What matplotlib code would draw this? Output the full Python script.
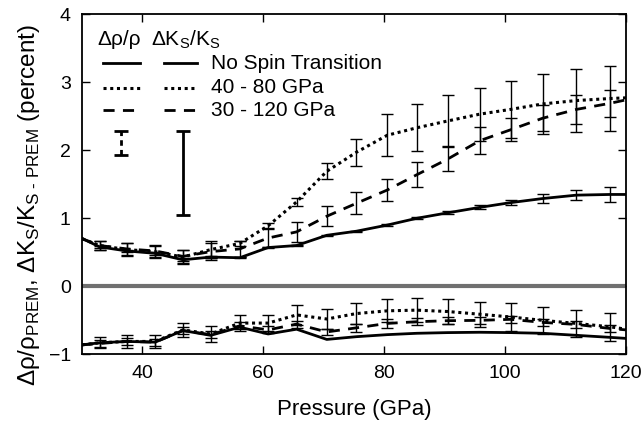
import matplotlib
matplotlib.use("Agg")
import matplotlib.pyplot as plt
import numpy as np

plt.rcParams['font.family'] = ['Liberation Sans', 'DejaVu Sans']
plt.rcParams['mathtext.fontset'] = 'custom'
plt.rcParams['mathtext.rm'] = 'Liberation Sans'

# Pressure points (GPa); first and last are the plot edges
pressure = [30.0, 32.9, 37.4, 42.1, 46.7, 51.3, 56.1, 60.8, 65.5, 70.5, 75.4,
            80.5, 85.4, 90.5, 95.8, 100.9, 106.2, 111.8, 117.4, 120.0]

# Delta K_S / K_S (percent), upper curves
ks_none = [0.705, 0.58, 0.52, 0.485, 0.39, 0.43, 0.42, 0.57, 0.60, 0.75, 0.81,
           0.90, 1.00, 1.08, 1.16, 1.23, 1.29, 1.34, 1.35, 1.35]
ks_40_80 = [0.70, 0.60, 0.54, 0.51, 0.43, 0.54, 0.63, 0.89, 1.24, 1.69, 1.97,
            2.22, 2.33, 2.43, 2.53, 2.60, 2.68, 2.73, 2.76, 2.77]
ks_30_120 = [0.70, 0.60, 0.55, 0.52, 0.44, 0.51, 0.55, 0.71, 0.80, 1.03, 1.22,
             1.415, 1.64, 1.87, 2.14, 2.30, 2.47, 2.60, 2.69, 2.74]
ks_none_err = [0.02, 0.02, 0.02, 0.02, 0.02, 0.01, 0.01, 0.01, 0.01, 0.01, 0.01,
               0.015, 0.02, 0.03, 0.04, 0.065, 0.075, 0.11]
ks_40_80_err = [0.07, 0.09, 0.09, 0.10, 0.12, 0.04, 0.04, 0.06, 0.12, 0.20,
                0.31, 0.345, 0.375, 0.39, 0.42, 0.44, 0.46, 0.48]
ks_30_120_err = [0.07, 0.09, 0.09, 0.10, 0.12, 0.12, 0.135, 0.15, 0.15, 0.16,
                 0.167, 0.18, 0.18, 0.20, 0.17, 0.19, 0.21, 0.20]

# Delta rho / rho (percent), lower curves
rho_none = [-0.86, -0.83, -0.81, -0.82, -0.65, -0.72, -0.60, -0.70, -0.63, -0.78,
            -0.74, -0.71, -0.69, -0.68, -0.675, -0.68, -0.69, -0.72, -0.75, -0.765]
rho_40_80 = [-0.86, -0.83, -0.81, -0.81, -0.64, -0.70, -0.54, -0.54, -0.42, -0.48,
             -0.40, -0.36, -0.35, -0.37, -0.41, -0.45, -0.50, -0.545, -0.595, -0.63]
rho_30_120 = [-0.86, -0.84, -0.81, -0.82, -0.65, -0.71, -0.58, -0.64, -0.555, -0.67,
              -0.61, -0.545, -0.52, -0.505, -0.50, -0.485, -0.53, -0.56, -0.62, -0.64]
rho_40_80_err = [0.08, 0.09, 0.10, 0.105, 0.12, 0.12, 0.12, 0.15, 0.15, 0.16,
                 0.17, 0.18, 0.18, 0.185, 0.20, 0.195, 0.20, 0.205]
rho_30_120_err = [0.05, 0.05, 0.05, 0.05, 0.05, 0.05, 0.05, 0.05, 0.05, 0.06,
                  0.065, 0.05, 0.05, 0.05, 0.05, 0.05, 0.05, 0.05]

legend_labels = ["No Spin Transition", "40 - 80 GPa", "30 - 120 GPa"]
# representative error bars shown in the legend (low, high)
legend_err_rho = [1.93, 2.28]
legend_err_ks = [1.05, 2.28]

fig = plt.figure(figsize=(6.44, 4.28), dpi=100)
ax = fig.add_axes([0.1273, 0.172, 0.8447, 0.795])

P = np.array(pressure)
Pi = P[1:-1]

styles = {
    'solid': dict(ls='-', lw=2.0),
    'dot': dict(ls=(0, (1, 1.2)), lw=2.2),
    'dash': dict(ls=(0, (4, 3)), lw=2.0),
}

def draw(vals, err, style):
    ax.plot(P, vals, color='black', **styles[style], zorder=3)
    if err is not None:
        ax.errorbar(Pi, np.array(vals)[1:-1], yerr=err, fmt='none', ecolor='black',
                    elinewidth=1.0, capsize=4, capthick=1.0, zorder=4)

draw(ks_none, ks_none_err, 'solid')
draw(ks_40_80, ks_40_80_err, 'dot')
draw(ks_30_120, ks_30_120_err, 'dash')
draw(rho_none, None, 'solid')
draw(rho_40_80, rho_40_80_err, 'dot')
draw(rho_30_120, rho_30_120_err, 'dash')

ax.axhline(0, color='#707070', lw=3.0, zorder=2)

ax.set_xlim(30, 120)
ax.set_ylim(-1, 4)
ax.set_xticks([40, 60, 80, 100, 120])
ax.set_yticks([-1, 0, 1, 2, 3, 4])
ax.tick_params(direction='in', length=6, width=1.0, top=True, right=True,
               labelsize=14, pad=8)
for s in ax.spines.values():
    s.set_linewidth(1.3)

ax.set_xlabel("Pressure (GPa)", fontsize=16, labelpad=12)
ax.set_ylabel(r"Δρ/ρ$_\mathregular{PREM}$, ΔK$_\mathregular{S}$/K$_\text{S - PREM}$ (percent)",
              fontsize=17.5)
ax.yaxis.set_label_coords(-0.074, 0.44)

# legend drawn manually
tr = ax.transAxes
ax.text(0.068, 0.925, "Δρ/ρ", transform=tr, ha='center', va='center', fontsize=15)
ax.text(0.19, 0.925, r"ΔK$_\mathregular{S}$/K$_\mathregular{S}$", transform=tr,
        ha='center', va='center', fontsize=15)
rows_y = [0.855, 0.783, 0.718]
for y, st, lab in zip(rows_y, ['solid', 'dot', 'dash'], legend_labels):
    ax.plot([0.038, 0.1066], [y, y], transform=tr, color='black', **styles[st])
    ax.plot([0.1507, 0.212], [y, y], transform=tr, color='black', **styles[st])
    ax.text(0.237, y, lab, transform=tr, ha='left', va='center', fontsize=15)

lx1, lx2 = 36.45, 46.66
eb1 = ax.errorbar([lx1], [np.mean(legend_err_rho)], yerr=[(legend_err_rho[1] - legend_err_rho[0]) / 2],
                  fmt='none', ecolor='black', elinewidth=2.0, capsize=5, capthick=2.0)
eb1[2][0].set_linestyle((0, (2, 1.5)))
ax.errorbar([lx2], [np.mean(legend_err_ks)], yerr=[(legend_err_ks[1] - legend_err_ks[0]) / 2],
            fmt='none', ecolor='black', elinewidth=2.0, capsize=5, capthick=2.0)

fig.savefig("out.png", dpi=100)
